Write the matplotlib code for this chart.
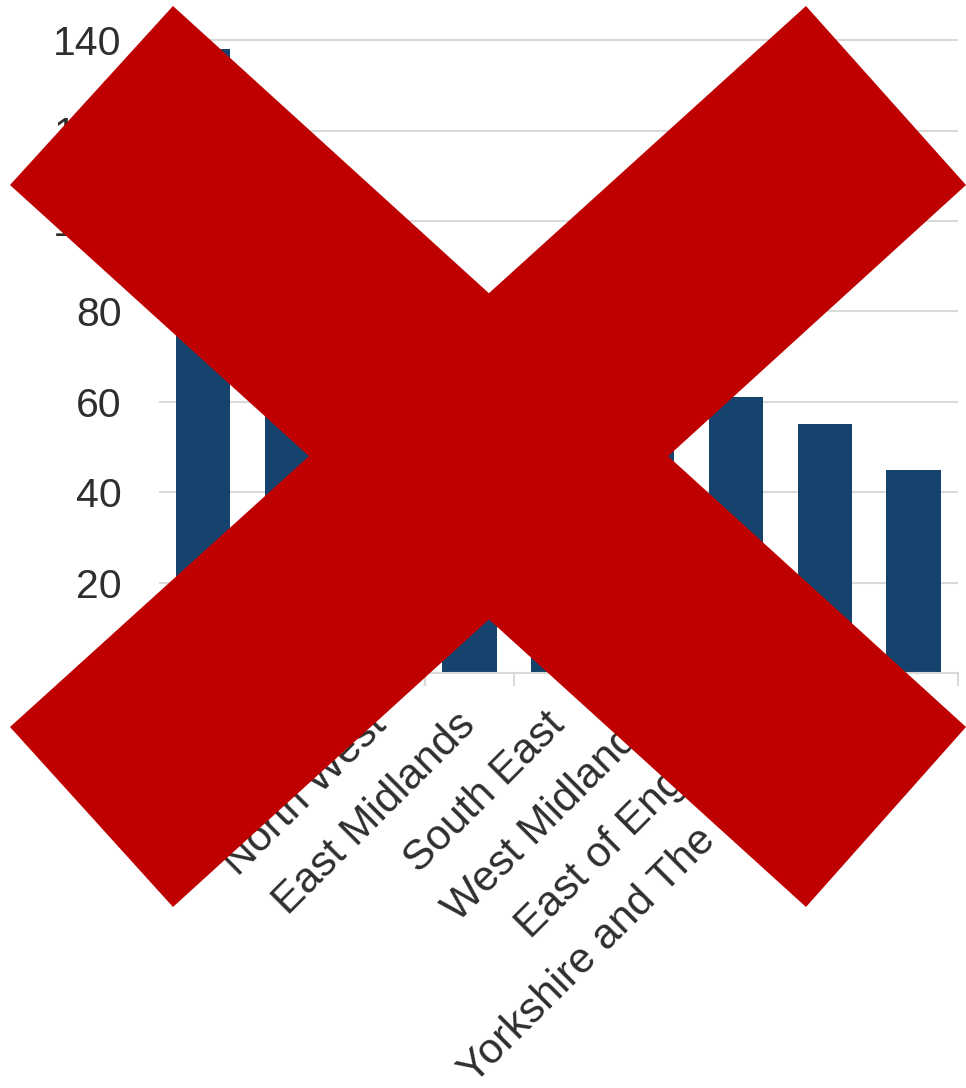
import matplotlib
matplotlib.use("Agg")
import matplotlib.pyplot as plt
from matplotlib.patches import Polygon
import numpy as np

# regions (first, second and last are hidden under the cross, guessed)
regions = ["London", "North East", "North West", "East Midlands", "South East",
           "West Midlands", "East of England", "Yorkshire and The Humber", "Wales"]
values = [138, 96, 82, 76, 70, 64, 61, 55, 45]
yticks = [0, 20, 40, 60, 80, 100, 120, 140]

plt.rcParams["font.family"] = ["Liberation Sans", "DejaVu Sans"]

W, H = 966, 1088
fig = plt.figure(figsize=(W / 100, H / 100), dpi=100)
ax = fig.add_axes([0.1642, 0.3814, 0.8275, 0.5858])

x = np.arange(len(regions))
ax.bar(x, values, width=0.61, color="#15436d", zorder=2)
ax.set_xlim(-0.5, len(regions) - 0.5)
ax.set_ylim(0, 141)

ax.set_yticks(yticks)
ax.yaxis.grid(True, color="#d9d9d9", linewidth=1.5)
ax.set_axisbelow(True)
for s in ["left", "right", "top"]:
    ax.spines[s].set_visible(False)
ax.spines["bottom"].set_color("#d9d9d9")
ax.spines["bottom"].set_linewidth(1.5)
ax.tick_params(axis="y", length=0, pad=26.5, labelsize=29.5, labelcolor="#2e2e2e")

ax.set_xticks(x)
ax.set_xticklabels(regions, rotation=45, ha="right", va="center", rotation_mode="anchor")
ax.tick_params(axis="x", which="major", length=0, pad=33, labelsize=30.7, labelcolor="#2e2e2e")
ax.set_xticks(np.arange(len(regions) + 1) - 0.5, minor=True)
ax.tick_params(axis="x", which="minor", length=9.4, width=1.5, color="#d9d9d9")

# big red cross over the chart (pixel corners of each stroke)
strokes = [
    [(173, 6), (966, 727), (806, 907), (10, 185)],
    [(806, 6), (10, 727), (173, 907), (966, 185)],
]
for pts in strokes:
    frac = [(px / W, 1 - py / H) for px, py in pts]
    fig.add_artist(Polygon(frac, closed=True, transform=fig.transFigure,
                           facecolor="#bf0000", edgecolor="none", zorder=10))

fig.savefig("out.png", dpi=100)
